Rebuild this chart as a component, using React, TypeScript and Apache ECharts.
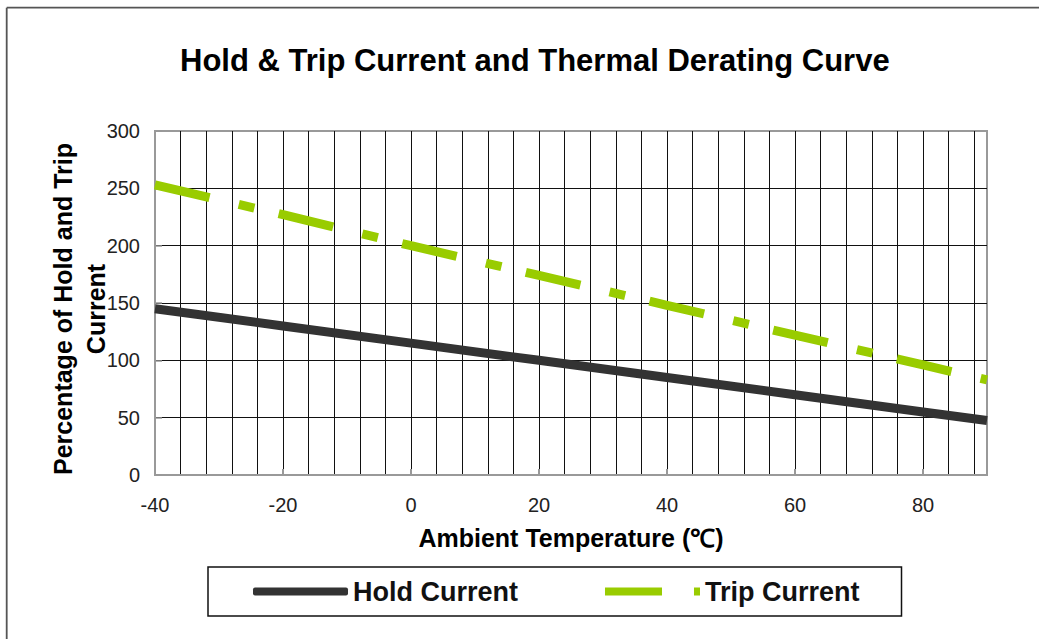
import React, { useEffect, useRef } from "react";
import * as echarts from "echarts";

// ---- data ----
const tempX = [-40, -20, 0, 20, 40, 60, 80, 90];
const holdCurrent = [145, 130, 115, 100, 85, 70, 55, 47.5];
const tripCurrent = [253, 227, 200, 174, 148, 122, 96, 83];
const seriesNames = ["Hold Current", "Trip Current"];
const xRange = { min: -40, max: 90, labelStep: 20, gridStep: 4 };
const yRange = { min: 0, max: 300, step: 50 };
const titleText = "Hold & Trip Current and Thermal Derating Curve";
const xName = "Ambient Temperature (℃)";
const yName = "Percentage of Hold and Trip\nCurrent";

const FONT = '"Liberation Sans", Arial, Helvetica, sans-serif';

export default function App() {
  const ref = useRef<HTMLDivElement>(null);
  useEffect(() => {
    if (!ref.current) return;
    const chart = echarts.init(ref.current, null, { renderer: "svg" });
    const option: any = {
      animation: false,
      backgroundColor: "#ffffff",
      textStyle: { fontFamily: FONT },
      title: {
        text: titleText,
        left: 180,
        top: 45,
        padding: 0,
        textStyle: { fontSize: 31, fontWeight: "bold", color: "#000", fontFamily: FONT },
      },
      grid: {
        left: 155,
        right: 52,
        top: 131,
        bottom: 164,
        show: true,
        borderColor: "#999",
        borderWidth: 2,
        backgroundColor: "transparent",
      },
      legend: {
        left: 208,
        top: 567,
        orient: "horizontal",
        padding: [11, 42, 11, 45],
        itemGap: 87,
        itemWidth: 95,
        itemHeight: 8,
        borderColor: "#111",
        borderWidth: 1.5,
        backgroundColor: "#fff",
        selectedMode: false,
        itemStyle: { borderWidth: 0 },
        textStyle: { fontSize: 27, fontWeight: "bold", color: "#111", fontFamily: FONT },
        data: [
          { name: seriesNames[0], icon: "roundRect" },
          { name: seriesNames[1], icon: "path://M0,0H57V8H0Z M89,0H95V8H89Z" },
        ],
      },
      xAxis: [
        {
          type: "value",
          min: xRange.min,
          max: xRange.max,
          interval: xRange.labelStep,
          axisLine: { show: true, onZero: false, lineStyle: { color: "#999", width: 2 } },
          axisTick: { show: true, inside: true, length: 6, lineStyle: { color: "#999", width: 2 } },
          axisLabel: { margin: 20, fontSize: 20, color: "#222", showMaxLabel: false, fontFamily: FONT },
          splitLine: { show: false },
          name: xName,
          nameLocation: "middle",
          nameGap: 50,
          nameMoveOverlap: false,
          nameTextStyle: { fontSize: 25, fontWeight: "bold", color: "#000", fontFamily: FONT },
        },
        {
          type: "value",
          min: xRange.min,
          max: xRange.max,
          interval: xRange.gridStep,
          position: "bottom",
          axisLine: { show: false, onZero: false },
          axisTick: { show: false },
          axisLabel: { show: false },
          splitLine: {
            show: true,
            showMinLine: false,
            showMaxLine: false,
            lineStyle: { color: "#111", width: 1 },
          },
        },
      ],
      yAxis: {
        type: "value",
        min: yRange.min,
        max: yRange.max,
        interval: yRange.step,
        axisLine: { show: true, onZero: false, lineStyle: { color: "#999", width: 2 } },
        axisTick: { show: true, inside: true, length: 7, lineStyle: { color: "#999", width: 1.5 } },
        axisLabel: { margin: 15, fontSize: 20, color: "#222", fontFamily: FONT },
        splitLine: {
          show: true,
          showMinLine: false,
          showMaxLine: false,
          lineStyle: { color: "#111", width: 1 },
        },
        name: yName,
        nameLocation: "middle",
        nameGap: 43,
        nameRotate: 90,
        nameMoveOverlap: false,
        nameTextStyle: {
          fontSize: 25,
          fontWeight: "bold",
          color: "#000",
          lineHeight: 33,
          padding: [0, 12, 0, 0],
          fontFamily: FONT,
        },
      },
      series: [
        {
          name: seriesNames[0],
          type: "line",
          xAxisIndex: 0,
          data: tempX.map((x, i) => [x, holdCurrent[i]]),
          symbol: "none",
          showSymbol: false,
          lineStyle: { color: "#333333", width: 9, cap: "butt" },
          itemStyle: { color: "#333333" },
          z: 3,
        },
        {
          name: seriesNames[1],
          type: "line",
          xAxisIndex: 0,
          data: tempX.map((x, i) => [x, tripCurrent[i]]),
          symbol: "none",
          showSymbol: false,
          lineStyle: { color: "#99CC00", width: 9, type: [56, 30, 16, 25], cap: "butt" },
          itemStyle: { color: "#99CC00" },
          z: 3,
        },
      ],
      graphic: [
        { type: "line", shape: { x1: 6.7, y1: 7.7, x2: 1039, y2: 7.7 }, style: { stroke: "#555", lineWidth: 1.8 } },
        { type: "line", shape: { x1: 6.7, y1: 7.7, x2: 6.7, y2: 639 }, style: { stroke: "#555", lineWidth: 1.8 } },
      ],
    };
    chart.setOption(option);
    return () => chart.dispose();
  }, []);
  return (
    <div
      ref={ref}
      style={{ position: "fixed", left: 0, top: 0, width: 1039, height: 639, background: "#fff" }}
    />
  );
}
